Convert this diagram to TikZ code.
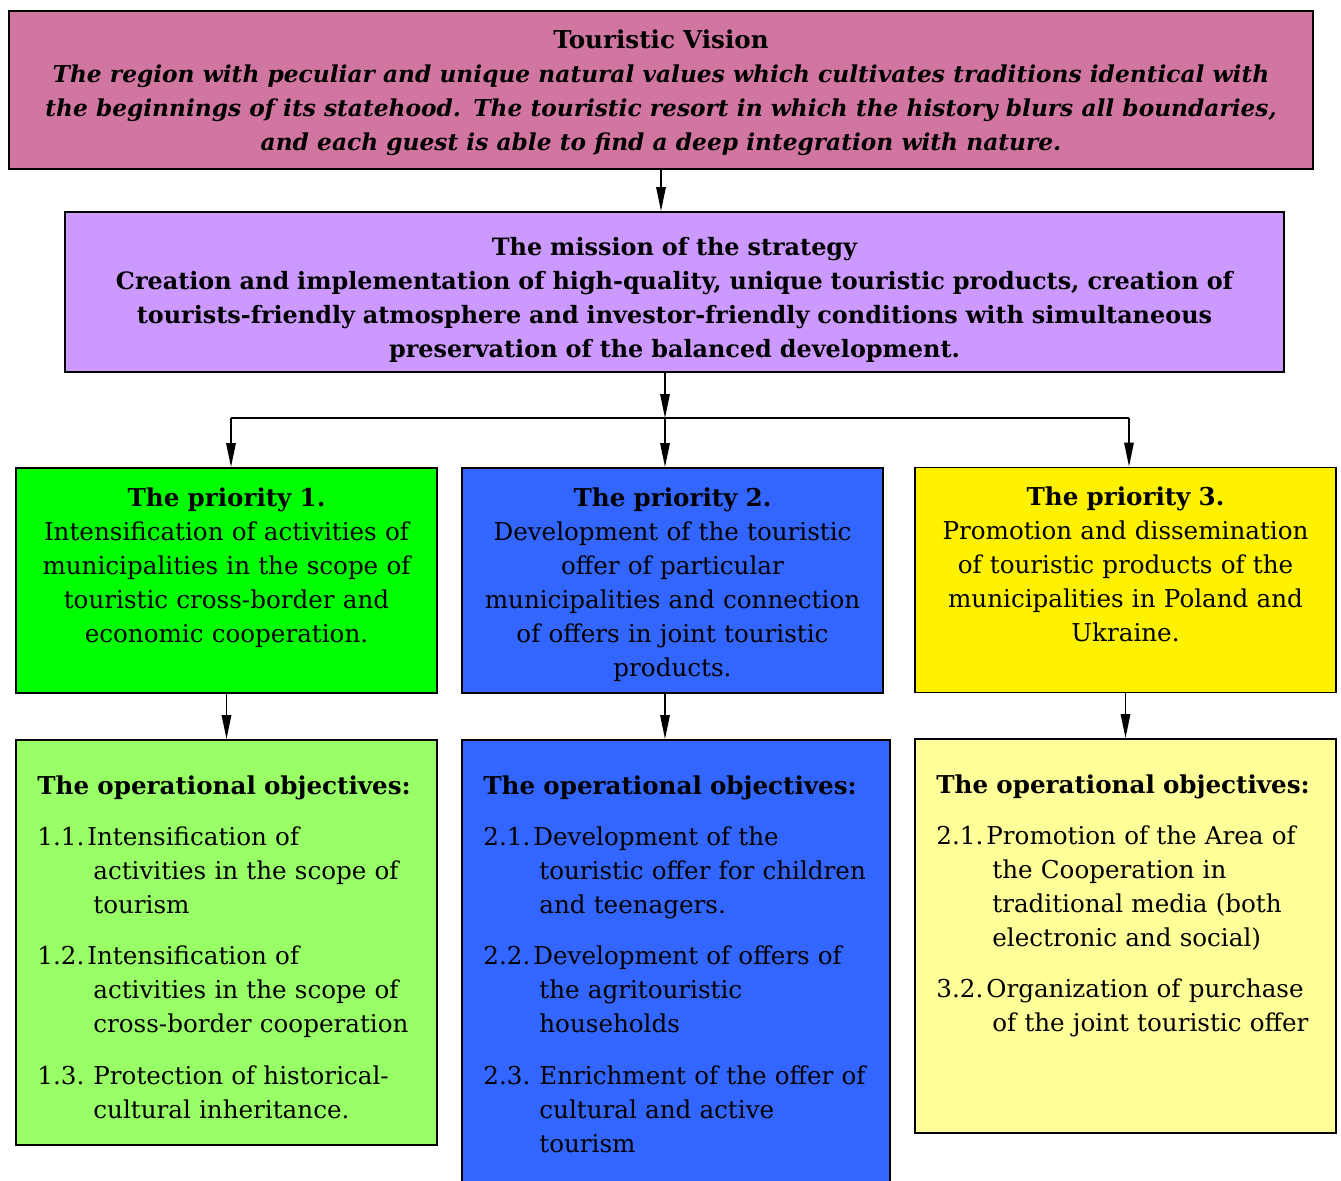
\documentclass[tikz,border=0pt]{standalone}
\usepackage{fontspec}
\setmainfont{DejaVu Serif}
\usetikzlibrary{arrows.meta}
\pgfdeclarelayer{bg}
\pgfsetlayers{bg,main}
\definecolor{visionpink}{HTML}{D176A0}
\definecolor{missionlilac}{HTML}{CC99FF}
\definecolor{prioblue}{HTML}{3366FF}
\definecolor{objgreen}{HTML}{99FF66}
\definecolor{objyellow}{HTML}{FFFF99}
% one objective: number, first line, further lines (hanging)
\newcommand{\objitem}[4][1.0cm]{\noindent\makebox[#1][l]{#2}#3\par
        \noindent\hspace*{1.12cm}\begin{tabular}[t]{@{}l@{}}#4\end{tabular}\par\vspace{0.42cm}}
\newcommand{\objhead}{\noindent\textbf{The operational objectives:}\par\vspace{0.34cm}}

\begin{document}
\begin{tikzpicture}[
        box/.style={draw, line width=1.1pt, inner sep=0pt},
        txt/.style={inner sep=0pt, font=\fontsize{14pt}{19.35pt}\selectfont},
        prio/.style={box, minimum width=8.42cm, minimum height=4.5cm},
        priotext/.style={txt, anchor=north, text width=8.2cm, align=center},
        obj/.style={box, minimum width=8.42cm},
        objtext/.style={txt, anchor=north west, text width=7.8cm, align=left},
        arr/.style={line width=0.85pt, -{Triangle[length=0.48cm,width=0.19cm]}}]
        \useasboundingbox (0,0) rectangle (26.82,-23.60);
        \node (vision) [box, fill=visionpink, minimum width=26.08cm, minimum height=3.16cm] at (13.22cm, -1.80cm) {};
        \node (visiontext) [txt, anchor=north, text width=26.0cm, align=center] at ([yshift=-0.38cm]vision.north)
                {\textbf{Touristic Vision}\\
                \fontsize{13.25pt}{19.35pt}\selectfont\bfseries\itshape
                The region with peculiar and unique natural values which cultivates traditions identical with\\
                the beginnings of its statehood. The touristic resort in which the history blurs all boundaries,\\
                and each guest is able to find a deep integration with nature.};
        \node (mission) [box, fill=missionlilac, minimum width=24.38cm, minimum height=3.20cm] at (13.49cm, -5.84cm) {};
        \node (missiontext) [txt, anchor=north, text width=24.2cm, align=center, font=\fontsize{13.6pt}{19.35pt}\selectfont\bfseries] at ([yshift=-0.52cm]mission.north)
                {The mission of the strategy\\
                Creation and implementation of high-quality, unique touristic products, creation of\\
                tourists-friendly atmosphere and investor-friendly conditions with simultaneous\\
                preservation of the balanced development.};
        \node (p1) [prio, fill=green] at (4.53cm, -11.61cm) {};
        \node (p2) [prio, fill=prioblue] at (13.45cm, -11.61cm) {};
        \node (p3) [prio, fill=yellow] at (22.51cm, -11.60cm) {};
        \node (p1text) [priotext] at ([yshift=-0.40cm]p1.north)
                {\textbf{The priority 1.}\\ Intensification of activities of\\ municipalities in the scope of\\ touristic cross-border and\\ economic cooperation.};
        \node (p2text) [priotext] at ([yshift=-0.40cm]p2.north)
                {\textbf{The priority 2.}\\ Development of the touristic\\ offer of particular\\ municipalities and connection\\ of offers in joint touristic\\ products.};
        \node (p3text) [priotext] at ([yshift=-0.40cm]p3.north)
                {\textbf{The priority 3.}\\ Promotion and dissemination\\ of touristic products of the\\ municipalities in Poland and\\ Ukraine.};
        \node (o1) [obj, fill=objgreen, minimum height=8.10cm] at (4.53cm, -18.85cm) {};
        \node (o2) [obj, fill=prioblue, minimum width=8.56cm, minimum height=9.6cm] at (13.52cm, -19.60cm) {};
        \node (o3) [obj, fill=objyellow, minimum height=7.88cm] at (22.51cm, -18.72cm) {};
        \node (o1text) [objtext] at ([shift={(0.44cm,-0.72cm)}]o1.north west)
                {\objhead
                \objitem{1.1.}{Intensification of}{activities in the scope of\\ tourism}
                \objitem{1.2.}{Intensification of}{activities in the scope of\\ cross-border cooperation}
                \objitem[1.12cm]{1.3.}{Protection of historical-}{cultural inheritance.}};
        \node (o2text) [objtext] at ([shift={(0.44cm,-0.72cm)}]o2.north west)
                {\objhead
                \objitem{2.1.}{Development of the}{touristic offer for children\\ and teenagers.}
                \objitem{2.2.}{Development of offers of}{the agritouristic\\ households}
                \objitem[1.12cm]{2.3.}{Enrichment of the offer of}{cultural and active\\ tourism}};
        \node (o3text) [objtext] at ([shift={(0.44cm,-0.72cm)}]o3.north west)
                {\objhead
                \objitem{2.1.}{Promotion of the Area of}{the Cooperation in\\ traditional media (both\\ electronic and social)}
                \objitem{3.2.}{Organization of purchase}{of the joint touristic offer}};
        \coordinate (split) at (13.30cm, -8.36cm);
        \coordinate (b1) at (4.62cm, -8.36cm);
        \coordinate (b3) at (22.58cm, -8.36cm);
        \begin{pgfonlayer}{bg}
                \draw [arr] (vision.south) -- (mission.north -| vision.south);
                \draw [arr] (split |- mission.south) -- (split);
                \draw [line width=0.85pt] (b1) -- (b3);
                \draw [arr] (b1) -- (b1 |- p1.north);
                \draw [arr] (split) -- (split |- p2.north);
                \draw [arr] (b3) -- (b3 |- p3.north);
                \draw [arr] (p1.south) -- (o1.north);
                \draw [arr] (split |- p2.south) -- (split |- o2.north);
                \draw [arr] (p3.south) -- (o3.north);
        \end{pgfonlayer}
\end{tikzpicture}
\end{document}
